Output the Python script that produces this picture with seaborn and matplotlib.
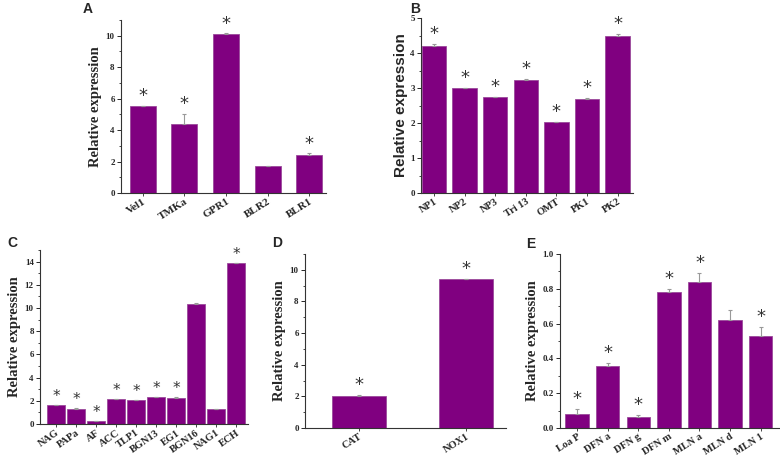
import numpy as np
import pandas as pd
import seaborn as sns
import matplotlib.pyplot as plt
from matplotlib.ticker import AutoMinorLocator

# panel A
genes_a = ["Vel1", "TMKa", "GPR1", "BLR2", "BLR1"]
expr_a = [5.5, 4.4, 10.1, 1.7, 2.42]
err_a = [0.06, 0.6, 0.05, 0.03, 0.1]
star_a = [True, True, True, False, True]

# panel B
genes_b = ["NP1", "NP2", "NP3", "Tri 13", "OMT", "PK1", "PK2"]
expr_b = [4.2, 2.99, 2.73, 3.22, 2.02, 2.68, 4.5]
err_b = [0.06, 0.02, 0.02, 0.03, 0.02, 0.03, 0.05]
star_b = [True] * 7

# panel C
genes_c = ["NAG", "PAPa", "AF", "ACC", "TLP1", "BGN13", "EG1", "BGN16", "NAG1", "ECH"]
expr_c = [1.62, 1.32, 0.25, 2.15, 2.05, 2.32, 2.27, 10.35, 1.27, 13.85]
err_c = [0.05, 0.04, 0.02, 0.04, 0.04, 0.04, 0.04, 0.05, 0.03, 0.06]
star_c = [True, True, True, True, True, True, True, False, False, True]

# panel D
genes_d = ["CAT", "NOX1"]
expr_d = [2.02, 9.4]
err_d = [0.05, 0.05]
star_d = [True, True]

# panel E
genes_e = ["Loa P", "DFN a", "DFN g", "DFN m", "MLN a", "MLN d", "MLN 1"]
expr_e = [0.08, 0.355, 0.065, 0.78, 0.84, 0.62, 0.53]
err_e = [0.03, 0.02, 0.01, 0.02, 0.05, 0.06, 0.05]
star_e = [True, True, True, True, True, False, True]

sns.set_style("white")
plt.rcParams["font.family"] = ["Liberation Serif", "DejaVu Serif"]

W, H = 780, 459
fig = plt.figure(figsize=(W / 100, H / 100), dpi=100)
purple = "#800080"


def px_axes(left, right, top, bottom):
    return fig.add_axes([left / W, 1 - bottom / H, (right - left) / W, (bottom - top) / H])


def panel(ax, genes, vals, errs, stars, ymax, major, xlim, width, rot=32,
          tick_fs=7.5, label_font="Liberation Serif", label_fs=10.5, label_pad=2.5,
          star_fs=13):
    df = pd.DataFrame({"gene": genes, "expr": vals})
    sns.barplot(data=df, x="gene", y="expr", color=purple, saturation=1,
                width=width, edgecolor="#9a4a9a", linewidth=0.6, ax=ax)
    x = np.arange(len(genes))
    ax.errorbar(x, vals, yerr=[np.zeros(len(errs)), errs], fmt="none",
                ecolor="#999999", elinewidth=0.8, capsize=1.5, capthick=0.8)
    for xi, v, e, s in zip(x, vals, errs, stars):
        if s:
            ax.text(xi, v + e + ymax * 0.005, "*", ha="center", va="bottom",
                    fontsize=star_fs, color="#333333", family="DejaVu Sans")
    ax.set_ylim(0, ymax)
    ax.set_xlim(*xlim)
    ax.yaxis.set_major_locator(plt.MultipleLocator(major))
    ax.yaxis.set_minor_locator(AutoMinorLocator(2))
    ax.tick_params(axis="y", which="major", direction="out", length=3, width=0.7,
                   labelsize=6.5, left=True, pad=1.5)
    ax.tick_params(axis="y", which="minor", direction="out", length=1.5, width=0.6, left=True)
    ax.tick_params(axis="x", direction="out", length=2, width=0.6, bottom=True, pad=1)
    for lab in ax.get_yticklabels():
        lab.set_fontweight("bold")
    ax.set_xticks(x)
    ax.set_xticklabels(genes, rotation=rot, ha="right", rotation_mode="anchor",
                       fontsize=tick_fs, fontweight="bold")
    ax.set_xlabel("")
    ax.set_ylabel("Relative expression", fontsize=label_fs, fontweight="bold",
                  family=label_font, labelpad=label_pad)
    sns.despine(ax=ax)
    for sp in ("left", "bottom"):
        ax.spines[sp].set_linewidth(0.8)
        ax.spines[sp].set_color("#333333")


ax_a = px_axes(121, 326, 20, 193)
panel(ax_a, genes_a, expr_a, err_a, star_a, 11, 2, (-0.52, 4.4), 0.62, tick_fs=8)

ax_b = px_axes(421, 633, 18, 193)
panel(ax_b, genes_b, expr_b, err_b, star_b, 5, 1, (-0.42, 6.5), 0.8,
      label_font="Liberation Sans", label_fs=11, label_pad=1.5)

ax_c = px_axes(40, 248, 250, 424)
panel(ax_c, genes_c, expr_c, err_c, star_c, 15, 2, (-0.8, 9.6), 0.9, rot=35, tick_fs=7.5,
      star_fs=11)

ax_d = px_axes(305, 506, 254, 428)
panel(ax_d, genes_d, expr_d, err_d, star_d, 11, 2, (-0.5, 1.37), 0.5)

ax_e = px_axes(560, 779, 254, 428)
panel(ax_e, genes_e, expr_e, err_e, star_e, 1.0, 0.2, (-0.56, 6.6), 0.77, tick_fs=7.5)
ax_e.yaxis.set_major_formatter(plt.FormatStrFormatter("%.1f"))

for lab, (px, py) in zip("ABCDE", [(83, 9), (410, 9), (7, 243), (272, 243), (526, 244)]):
    fig.text(px / W, 1 - py / H, lab, fontsize=10, fontweight="bold",
             family="Liberation Sans", ha="left", va="center")

fig.savefig("out.png", dpi=100)
